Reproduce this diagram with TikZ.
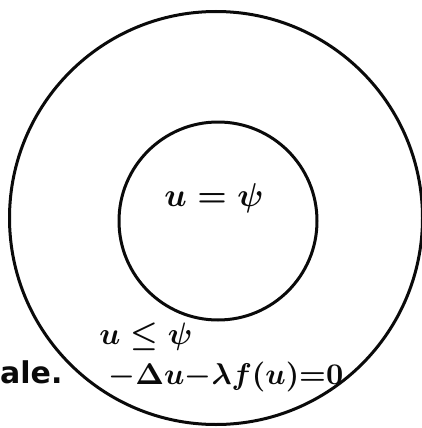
\documentclass[tikz,border=0pt]{standalone}
\usepackage{amsmath,amssymb}
\usepackage{xcolor}
\usepackage{fontspec}
\newfontfamily\labelfont{DejaVu Sans}
\usetikzlibrary{shapes.geometric, positioning, calc}
\definecolor{inkblack}{RGB}{10,10,10}
\tikzset{
  region/.style={
    circle, draw=inkblack, line width=3pt, inner sep=0pt
  },
  formula/.style={
    inner sep=0pt, text=inkblack, transform shape
  },
  caption/.style={
    inner sep=0pt, text=inkblack, font=\labelfont\bfseries\fontsize{30}{32}\selectfont
  }
}
\begin{document}
\begin{tikzpicture}[x=1pt, y=-1pt]
  \useasboundingbox (0,0) rectangle (422,428);
  % ── Regions ──────────────────────────────────────────────────────
  \node[region, minimum size=413pt] (outer) at (216, 218) {};
  \node[region, minimum size=198pt] (inner) at (218, 221) {};

  % ── Inner region ─────────────────────────────────────────────────
  \node[formula, scale=3.3] (contact)
    at (214, 198) {$\boldsymbol{u=\psi}$};

  % ── Outer region ─────────────────────────────────────────────────
  \node[formula, scale=3.1] (obstacle)
    at (146, 337) {$\boldsymbol{u\leq\psi}$};
  \node[formula, scale=3.0] (equation)
    at (226, 377) {$\boldsymbol{-\Delta u{-}\lambda f(u){=}0}$};

  % ── Margin text ──────────────────────────────────────────────────
  \node[caption, anchor=west] (tail) at (0, 372) {ale.};
\end{tikzpicture}
\end{document}
